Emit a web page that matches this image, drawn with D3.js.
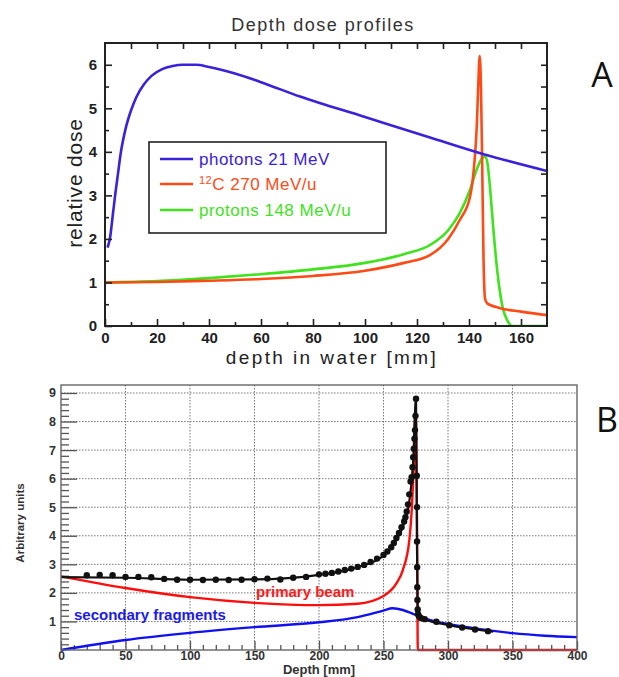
<!DOCTYPE html>
<html>
<head>
<meta charset="utf-8">
<script src="https://cdn.jsdelivr.net/npm/d3@7"></script>
<style>
  body { margin: 0; background: #fff; }
  svg { display: block; }
</style>
</head>
<body>
<div id="chart"></div>
<script>
// ---- panel A: depth dose profiles ----
const photonDepth = [1, 2, 3, 4, 5, 6, 8, 10, 12, 15, 18, 22, 26, 30, 35, 40, 50, 60, 75, 100, 125, 146, 170];
const photonDose = [1.8, 2.05, 2.55, 3.05, 3.5, 3.95, 4.55, 4.95, 5.25, 5.55, 5.75, 5.9, 5.97, 6.0, 6.0, 5.95, 5.8, 5.6, 5.27, 4.8, 4.33, 3.94, 3.56];

const carbonDepth = [0, 20, 40, 60, 80, 100, 115, 125, 132, 136.5, 140.4, 142, 143, 143.6, 144.1, 144.6, 145.1, 145.6, 146.2, 147, 152, 160, 170];
const carbonDose = [1.0, 1.01, 1.04, 1.08, 1.15, 1.27, 1.45, 1.63, 2.0, 2.44, 2.97, 3.7, 4.6, 5.6, 6.2, 5.5, 3.6, 1.5, 0.62, 0.52, 0.41, 0.33, 0.25];

const protonDepth = [0, 20, 40, 60, 80, 100, 115, 125, 132, 136.5, 140.4, 143, 145, 146.2, 147.2, 148.2, 149.4, 151, 153, 155, 156.5, 170];
const protonDose = [1.0, 1.03, 1.1, 1.19, 1.3, 1.45, 1.65, 1.86, 2.2, 2.6, 3.13, 3.6, 3.85, 3.9, 3.7, 3.1, 2.2, 1.2, 0.41, 0.1, 0, 0];

const legendLabels = ["photons 21 MeV", "C 270 MeV/u", "protons 148 MeV/u"];
const xTicksA = [0, 20, 40, 60, 80, 100, 120, 140, 160];
const yTicksA = [0, 1, 2, 3, 4, 5, 6];

// ---- panel B: measured vs. simulated ----
const measDepth = [20, 30, 40, 50, 60, 70, 80, 90, 100, 110, 120, 130, 140, 150, 160, 170, 180, 190, 200, 205, 210, 215, 220, 225, 230, 235, 240, 245, 250, 253, 256, 258, 260, 262, 264, 266, 267, 268, 269, 270, 271, 271.8, 272.5, 273, 273.5, 274, 274.4, 274.8, 275.2, 275.8, 276, 276, 276.1, 276.2, 276.3, 276.5, 276.8, 277.5, 279, 282, 291, 301, 311, 321, 331];
const measDose = [2.62, 2.63, 2.62, 2.56, 2.56, 2.55, 2.49, 2.46, 2.46, 2.45, 2.46, 2.45, 2.46, 2.48, 2.5, 2.47, 2.53, 2.56, 2.65, 2.67, 2.7, 2.75, 2.8, 2.85, 2.91, 2.98, 3.08, 3.2, 3.33, 3.45, 3.6, 3.75, 3.92, 4.1, 4.3, 4.5, 4.65, 4.85, 5.1, 5.45, 5.9, 6.05, 6.4, 6.75, 7.05, 7.4, 7.7, 8.2, 8.8, 6.1, 5.0, 3.8, 2.9, 2.2, 1.75, 1.42, 1.25, 1.18, 1.12, 1.08, 0.99, 0.87, 0.79, 0.72, 0.66];

const fitDepth = [0, 50, 100, 150, 200, 230, 250, 260, 266, 270, 273, 275.2, 276, 276.6, 278, 282, 300, 335];
const fitDose = [2.55, 2.53, 2.46, 2.47, 2.63, 2.9, 3.3, 3.85, 4.45, 5.2, 6.6, 8.85, 3.5, 1.4, 1.18, 1.08, 0.88, 0.64];

const primaryDepth = [0, 50, 100, 150, 200, 230, 250, 260, 265, 270, 272, 273.5, 274.8, 276, 276.6, 400];
const primaryDose = [2.58, 2.17, 1.85, 1.65, 1.57, 1.62, 1.89, 2.33, 2.8, 3.84, 5.0, 6.5, 8.4, 4.3, 0, 0];

const secondaryDepth = [0, 50, 100, 150, 200, 230, 250, 257, 265, 272, 280, 290, 300, 325, 350, 375, 400];
const secondaryDose = [0, 0.35, 0.6, 0.8, 0.97, 1.15, 1.38, 1.46, 1.4, 1.28, 1.13, 1.0, 0.91, 0.73, 0.59, 0.5, 0.45];

const xTicksB = [0, 50, 100, 150, 200, 250, 300, 350, 400];
const yTicksB = [1, 2, 3, 4, 5, 6, 7, 8, 9];

const width = 619;
const height = 677;

const svg = d3.select("#chart").append("svg")
  .attr("width", width)
  .attr("height", height)
  .attr("viewBox", [0, 0, width, height]);

const zip = (xs, ys) => xs.map((x, i) => [x, ys[i]]);

// ================= panel A =================
{
  const fontA = "'Liberation Sans', Arial, sans-serif";
  const x = d3.scaleLinear([0, 170], [105, 547]);
  const y = d3.scaleLinear([0, 6.5], [326, 43]);
  const g = svg.append("g");

  g.append("text")
    .attr("x", 323).attr("y", 31)
    .attr("text-anchor", "middle")
    .attr("font-family", fontA).attr("font-size", 18)
    .attr("letter-spacing", 1.5)
    .attr("fill", "#333")
    .text("Depth dose profiles");

  const line = d3.line()
    .x(d => x(d[0])).y(d => y(d[1]))
    .curve(d3.curveMonotoneX);

  const series = [
    { data: zip(protonDepth, protonDose), color: "#3ee31c" },
    { data: zip(carbonDepth, carbonDose), color: "#ff4a16" },
    { data: zip(photonDepth, photonDose), color: "#3a22dc" }
  ];

  g.append("defs").append("clipPath").attr("id", "clipA")
    .append("rect").attr("x", 105).attr("y", 43).attr("width", 442).attr("height", 283);

  g.append("g").attr("clip-path", "url(#clipA)")
    .selectAll("path")
    .data(series)
    .join("path")
    .attr("d", d => line(d.data))
    .attr("fill", "none")
    .attr("stroke", d => d.color)
    .attr("stroke-width", 2.6)
    .attr("stroke-linejoin", "round");

  // axes, ticks drawn inward
  const styleAxis = sel => {
    sel.select(".domain").remove();
    sel.selectAll("line").attr("stroke", "#222").attr("stroke-width", 1.6);
    sel.selectAll("text").attr("font-family", fontA).attr("font-size", 15)
      .attr("font-weight", "bold").attr("fill", "#222");
  };
  const minorX = d3.range(10, 170, 20);
  const minorY = d3.range(0.5, 6.5, 1);

  g.append("g").attr("transform", "translate(0,326)")
    .call(d3.axisBottom(x).tickValues(xTicksA).tickSizeInner(-7).tickSizeOuter(0).tickPadding(6))
    .call(styleAxis);
  g.append("g").attr("transform", "translate(0,326)")
    .call(d3.axisBottom(x).tickValues(minorX).tickSizeInner(-4).tickSizeOuter(0).tickFormat(""))
    .call(styleAxis);
  g.append("g").attr("transform", "translate(0,43)")
    .call(d3.axisTop(x).tickValues(d3.range(10, 170, 10)).tickSizeInner(-6).tickSizeOuter(0).tickFormat(""))
    .call(styleAxis);
  g.append("g").attr("transform", "translate(105,0)")
    .call(d3.axisLeft(y).tickValues(yTicksA).tickFormat(d3.format("d")).tickSizeInner(-7).tickSizeOuter(0).tickPadding(8))
    .call(styleAxis);
  g.append("g").attr("transform", "translate(105,0)")
    .call(d3.axisLeft(y).tickValues(minorY).tickSizeInner(-4).tickSizeOuter(0).tickFormat(""))
    .call(styleAxis);
  g.append("g").attr("transform", "translate(547,0)")
    .call(d3.axisRight(y).tickValues(d3.range(0.5, 6.5, 0.5)).tickSizeInner(-6).tickSizeOuter(0).tickFormat(""))
    .call(styleAxis);
  g.selectAll(".tick text").filter(function () { return this.textContent === ""; }).remove();

  g.append("rect")
    .attr("x", 105).attr("y", 43).attr("width", 442).attr("height", 283)
    .attr("fill", "none").attr("stroke", "#222").attr("stroke-width", 2);

  g.append("text")
    .attr("transform", "translate(82,183) rotate(-90)")
    .attr("text-anchor", "middle")
    .attr("font-family", fontA).attr("font-size", 21)
    .attr("letter-spacing", 0.8)
    .attr("fill", "#222")
    .text("relative dose");

  g.append("text")
    .attr("x", 332).attr("y", 364)
    .attr("text-anchor", "middle")
    .attr("font-family", fontA).attr("font-size", 19)
    .attr("letter-spacing", 2.4)
    .attr("fill", "#222")
    .text("depth in water [mm]");

  // legend
  const lg = g.append("g");
  lg.append("rect")
    .attr("x", 149).attr("y", 142).attr("width", 237).attr("height", 91)
    .attr("fill", "#fff").attr("stroke", "#222").attr("stroke-width", 1.6);
  const legendColors = ["#3a22dc", "#ff4a16", "#3ee31c"];
  const rowY = [159, 184, 210];
  legendLabels.forEach((label, i) => {
    lg.append("line")
      .attr("x1", 160).attr("x2", 193).attr("y1", rowY[i]).attr("y2", rowY[i])
      .attr("stroke", legendColors[i]).attr("stroke-width", 2.6);
    const t = lg.append("text")
      .attr("x", 199).attr("y", rowY[i] + 6)
      .attr("font-family", fontA).attr("font-size", 17)
      .attr("letter-spacing", 0.5)
      .attr("fill", legendColors[i]);
    if (i === 1) {
      t.append("tspan").attr("font-size", 11).attr("dy", -6).text("12");
      t.append("tspan").attr("dy", 6).text(label);
    } else {
      t.text(label);
    }
  });

  svg.append("text")
    .attr("x", 602).attr("y", 87)
    .attr("text-anchor", "middle")
    .attr("font-family", "'Open Sans', 'Liberation Sans', sans-serif")
    .attr("font-size", 34)
    .attr("fill", "#111")
    .text("A");
}

// ================= panel B =================
{
  const fontB = "'Liberation Sans', Arial, sans-serif";
  const x = d3.scaleLinear([0, 400], [61, 577]);
  const y = d3.scaleLinear([0, 9.28], [650, 385]);
  const g = svg.append("g");

  // dotted grid
  g.append("g")
    .selectAll("line.v")
    .data(xTicksB.slice(1, -1))
    .join("line")
    .attr("x1", d => x(d)).attr("x2", d => x(d))
    .attr("y1", 385).attr("y2", 650)
    .attr("stroke", "#777").attr("stroke-width", 1)
    .attr("stroke-dasharray", "1.5,1.5");
  g.append("g")
    .selectAll("line.h")
    .data(yTicksB)
    .join("line")
    .attr("x1", 61).attr("x2", 577)
    .attr("y1", d => y(d)).attr("y2", d => y(d))
    .attr("stroke", "#777").attr("stroke-width", 1)
    .attr("stroke-dasharray", "1.5,1.5");

  const styleAxis = sel => {
    sel.select(".domain").remove();
    sel.selectAll("line").attr("stroke", "#555").attr("stroke-width", 1.3);
    sel.selectAll("text").attr("font-family", fontB).attr("font-size", 12.5)
      .attr("font-weight", "bold").attr("fill", "#333");
  };

  g.append("g").attr("transform", "translate(0,650)")
    .call(d3.axisBottom(x).tickValues(xTicksB).tickSizeInner(-9).tickSizeOuter(0).tickPadding(1))
    .call(styleAxis)
    .call(sel => sel.selectAll("text").attr("font-size", 12));
  g.append("g").attr("transform", "translate(0,650)")
    .call(d3.axisBottom(x).tickValues(d3.range(10, 400, 10).filter(d => d % 50)).tickSizeInner(-5).tickSizeOuter(0).tickFormat(""))
    .call(styleAxis);
  g.append("g").attr("transform", "translate(61,0)")
    .call(d3.axisLeft(y).tickValues(yTicksB).tickSizeInner(-16).tickSizeOuter(0).tickPadding(5))
    .call(styleAxis);
  g.append("g").attr("transform", "translate(61,0)")
    .call(d3.axisLeft(y).tickValues(d3.range(0.2, 9.2, 0.2).filter(d => Math.abs(d - Math.round(d)) > 0.05)).tickSizeInner(-8).tickSizeOuter(0).tickFormat(""))
    .call(styleAxis);
  g.selectAll(".tick text").filter(function () { return this.textContent === ""; }).remove();

  const line = d3.line()
    .x(d => x(d[0])).y(d => y(d[1]))
    .curve(d3.curveMonotoneX);

  g.append("path")
    .attr("d", line(zip(secondaryDepth, secondaryDose)))
    .attr("fill", "none").attr("stroke", "#1010f0").attr("stroke-width", 2.4);
  g.append("path")
    .attr("d", line(zip(primaryDepth, primaryDose)))
    .attr("fill", "none").attr("stroke", "#ff0d0d").attr("stroke-width", 2.4);
  g.append("path")
    .attr("d", line(zip(fitDepth, fitDose)))
    .attr("fill", "none").attr("stroke", "#111").attr("stroke-width", 2.2);

  g.append("g")
    .selectAll("circle")
    .data(zip(measDepth, measDose))
    .join("circle")
    .attr("cx", d => x(d[0]))
    .attr("cy", d => y(d[1]))
    .attr("r", 3.2)
    .attr("fill", "#111");

  // frame
  g.append("rect")
    .attr("x", 61).attr("y", 385).attr("width", 516).attr("height", 265)
    .attr("fill", "none").attr("stroke", "#666").attr("stroke-width", 1.4);

  g.append("text")
    .attr("x", 256).attr("y", 597)
    .attr("font-family", fontB).attr("font-size", 15).attr("font-weight", "bold")
    .attr("fill", "#ff1a1a")
    .text("primary beam");
  g.append("text")
    .attr("x", 74).attr("y", 620)
    .attr("font-family", fontB).attr("font-size", 15).attr("font-weight", "bold")
    .attr("fill", "#1a1af0")
    .text("secondary fragments");

  g.append("text")
    .attr("transform", "translate(24,523) rotate(-90)")
    .attr("text-anchor", "middle")
    .attr("font-family", fontB).attr("font-size", 11.5).attr("font-weight", "bold")
    .attr("fill", "#333")
    .text("Arbitrary units");

  g.append("text")
    .attr("x", 319).attr("y", 673.5)
    .attr("text-anchor", "middle")
    .attr("font-family", fontB).attr("font-size", 13).attr("font-weight", "bold")
    .attr("fill", "#333")
    .text("Depth [mm]");

  svg.append("text")
    .attr("x", 607).attr("y", 432)
    .attr("text-anchor", "middle")
    .attr("font-family", "'Open Sans', 'Liberation Sans', sans-serif")
    .attr("font-size", 34)
    .attr("fill", "#111")
    .text("B");
}
</script>
</body>
</html>
